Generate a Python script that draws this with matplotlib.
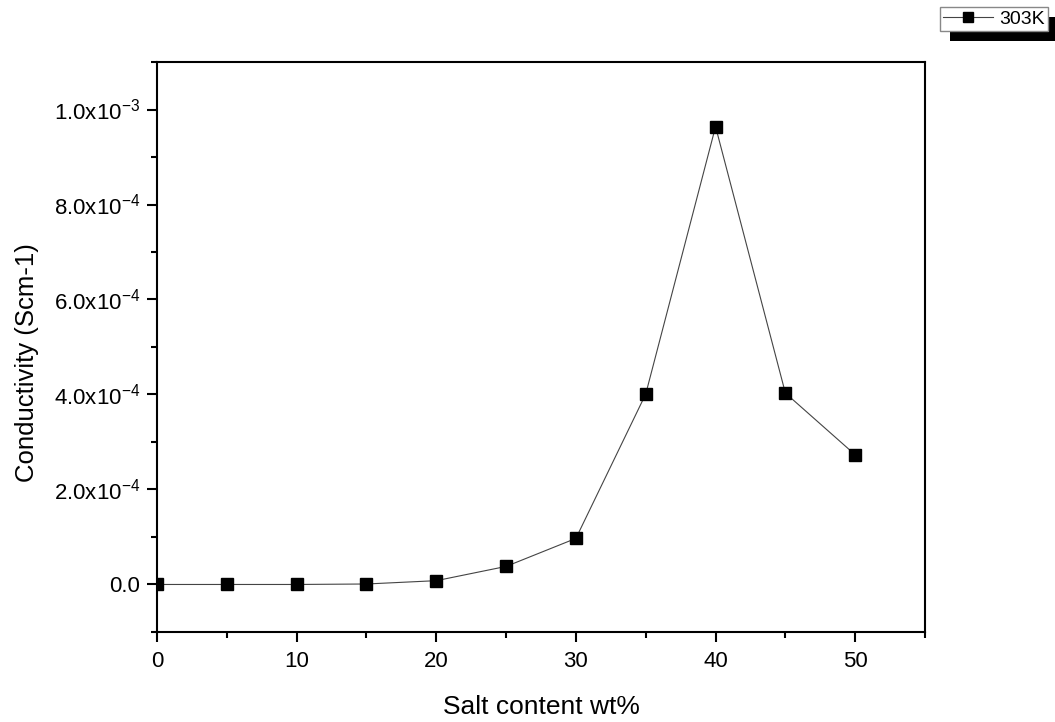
import matplotlib
matplotlib.use("Agg")
import matplotlib.pyplot as plt
from matplotlib.patches import Rectangle
from matplotlib.ticker import MultipleLocator, FuncFormatter

plt.rcParams['font.family'] = ['Liberation Sans', 'DejaVu Sans']
plt.rcParams['mathtext.fontset'] = 'custom'
plt.rcParams['mathtext.rm'] = 'Liberation Sans'
plt.rcParams['mathtext.it'] = 'Liberation Sans'

# data
salt_wt = [0, 5, 10, 15, 20, 25, 30, 35, 40, 45, 50]
conductivity = [0.0, 0.0, 0.0, 1e-6, 8e-6, 3.8e-5, 9.7e-5, 4.01e-4, 9.64e-4, 4.03e-4, 2.73e-4]
series_label = "303K"


def sci_label(v, pos):
    if abs(v) < 1e-12:
        return "0.0"
    exp = 0
    m = v
    while abs(m) < 1:
        m *= 10
        exp -= 1
    return "%.1fx10$^{%d}$" % (m, exp)


fig = plt.figure(figsize=(10.55, 7.22), dpi=100)
ax = fig.add_axes([0.1488, 0.1247, 0.728, 0.7894])

ax.plot(salt_wt, conductivity, color='#444444', lw=0.8, marker='s',
        markersize=8.5, markerfacecolor='black', markeredgecolor='black',
        label=series_label)

ax.set_xlim(0, 55)
ax.set_ylim(-1e-4, 1.1e-3)
ax.xaxis.set_major_locator(MultipleLocator(10))
ax.xaxis.set_minor_locator(MultipleLocator(5))
ax.yaxis.set_major_locator(MultipleLocator(2e-4))
ax.yaxis.set_minor_locator(MultipleLocator(1e-4))
ax.yaxis.set_major_formatter(FuncFormatter(sci_label))

ax.tick_params(which='both', direction='out', top=False, right=False, width=1.5)
ax.tick_params(which='major', length=7, labelsize=16, pad=5)
ax.tick_params(axis='x', which='major', pad=7)
ax.tick_params(which='minor', length=4)
for sp in ax.spines.values():
    sp.set_linewidth(1.5)

ax.set_xlabel("Salt content wt%", fontsize=19, labelpad=16)
ax.set_ylabel("Conductivity (Scm-1)", fontsize=18.5)
ax.yaxis.set_label_coords(-0.154, 0.472)

leg = fig.legend(loc='upper right', bbox_to_anchor=(0.993, 0.99),
                 fontsize=14, handlelength=2.6, handletextpad=0.3,
                 borderpad=0.15, borderaxespad=0, fancybox=False,
                 framealpha=1, edgecolor='#888888', markerscale=0.8)
leg.get_frame().set_linewidth(1.0)

fig.canvas.draw()
bb = leg.get_window_extent().transformed(fig.transFigure.inverted())
shadow = Rectangle((bb.x0 + 10 / 1055, bb.y0 - 10 / 722), bb.width, bb.height,
                   transform=fig.transFigure, facecolor='black',
                   edgecolor='none', zorder=leg.get_zorder() - 1)
fig.patches.append(shadow)

fig.savefig("out.png", dpi=100)
